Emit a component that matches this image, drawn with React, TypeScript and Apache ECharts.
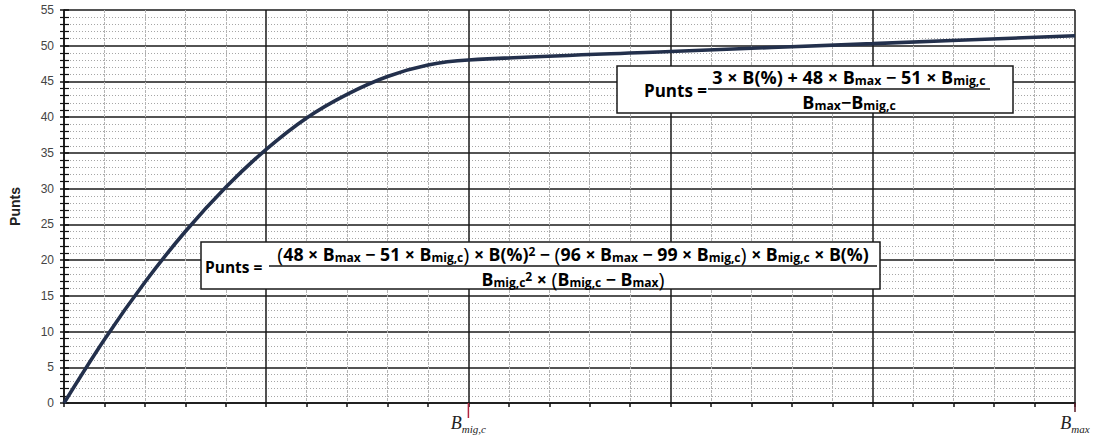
import React, { useEffect, useRef } from "react";
import * as echarts from "echarts";

// ---- data ----
const bValues = [0, 1, 2, 3, 4, 5, 6, 7, 8, 9, 10, 15, 20, 25];
const puntsValues = [0, 8.9, 16.9, 24.0, 30.2, 35.5, 39.9, 43.2, 45.7, 47.3, 48.0, 49.2, 50.3, 51.4];
const xLabelValues = [10, 25];
const xLabelSubs = ["mig,c", "max"];
const xMin = 0;
const xMax = 25;
const yMin = 0;
const yMax = 55;

const F = "'Open Sans', Lato, 'Liberation Sans', sans-serif";

const formulaRich = (size: number) => ({
  a: { fontSize: size, fontWeight: "bold", fontFamily: F, color: "#151515", lineHeight: 18 },
  s: { fontSize: size * 0.68, fontWeight: "bold", fontFamily: F, color: "#151515", lineHeight: 4, verticalAlign: "bottom" },
  sup: { fontSize: size * 0.68, fontWeight: "bold", fontFamily: F, color: "#151515", lineHeight: 8, verticalAlign: "top" },
  p: { fontSize: size * 1.15, fontFamily: F, color: "#151515", lineHeight: 18 },
});

const num1 = "{a|3 × B(%) + 48 × B}{s|max}{a| − 51 × B}{s|mig,c}";
const den1 = "{a|B}{s|max}{a|−B}{s|mig,c}";
const num2 =
  "{p|(}{a|48 × B}{s|max}{a| − 51 × B}{s|mig,c}{p|)}{a| × B(%)}{sup|2}{a| − }{p|(}{a|96 × B}{s|max}{a| − 99 × B}{s|mig,c}{p|)}{a| × B}{s|mig,c}{a| × B(%)}";
const den2 = "{a|B}{s|mig,c}{sup|2}{a| × }{p|(}{a|B}{s|mig,c}{a| − B}{s|max}{p|)}";

function txt(x: number, y: number, text: string, align: string, size: number) {
  return {
    type: "text",
    x,
    y,
    z: 20,
    style: {
      text,
      rich: formulaRich(size),
      align,
      textAlign: align,
      verticalAlign: "middle",
      textVerticalAlign: "middle",
    },
  };
}

function formulaBox(
  bx: number, by: number, bw: number, bh: number,
  puntsX: number, lineX1: number, lineX2: number, lineY: number,
  num: string, den: string, size: number, puntsSize: number
) {
  const cx = (lineX1 + lineX2) / 2;
  return [
    { type: "rect", z: 19, shape: { x: bx, y: by, width: bw, height: bh }, style: { fill: "#fff", stroke: "#1a1a1a", lineWidth: 1.5 } },
    txt(puntsX, lineY + 1, "{a|Punts =}", "left", puntsSize),
    txt(cx, lineY - 12, num, "center", size),
    { type: "line", z: 20, shape: { x1: lineX1, y1: lineY, x2: lineX2, y2: lineY }, style: { stroke: "#151515", lineWidth: 1.3 } },
    txt(cx, lineY + 13, den, "center", size),
  ];
}

export default function App() {
  const ref = useRef<HTMLDivElement>(null);
  useEffect(() => {
    if (!ref.current) return;
    const chart = echarts.init(ref.current, undefined, { renderer: "svg" });
    const option: any = {
      animation: false,
      backgroundColor: "#fff",
      grid: { left: 62, right: 22, top: 10, bottom: 36, containLabel: false },
      xAxis: [
        {
          type: "value",
          min: xMin,
          max: xMax,
          interval: 5,
          axisLine: { show: true, lineStyle: { color: "#111", width: 1.5 } },
          axisTick: { show: true, length: 4, lineStyle: { color: "#111", width: 1.5 } },
          minorTick: { show: true, splitNumber: 5, length: 4, lineStyle: { color: "#111", width: 1.5 } },
          splitLine: { show: true, lineStyle: { color: "#1a1a1a", width: 1.5 } },
          minorSplitLine: { show: true, lineStyle: { color: "#b4b4b4", width: 1, type: [3, 1] } },
          axisLabel: {
            margin: 9,
            formatter: (v: number) => {
              const i = xLabelValues.indexOf(v);
              return i >= 0 ? `{b|B}{s|${xLabelSubs[i]}}` : "";
            },
            rich: {
              b: { fontFamily: "'Liberation Serif', serif", fontStyle: "italic", fontSize: 18, color: "#222", lineHeight: 22 },
              s: { fontFamily: "'Liberation Serif', serif", fontStyle: "italic", fontSize: 11, color: "#222", lineHeight: 13, verticalAlign: "bottom" },
            },
          },
        },
      ],
      yAxis: [
        {
          type: "value",
          min: yMin,
          max: yMax,
          interval: 5,
          name: "Punts",
          nameLocation: "middle",
          nameGap: 42,
          nameTextStyle: { fontFamily: "'Liberation Sans', Arial, sans-serif", fontWeight: "bold", fontSize: 14, color: "#222" },
          axisLine: { show: true, lineStyle: { color: "#111", width: 1.5 } },
          axisTick: { show: true, length: 4, lineStyle: { color: "#111", width: 1.5 } },
          minorTick: { show: true, splitNumber: 5, length: 4, lineStyle: { color: "#111", width: 1.2 } },
          splitLine: { show: true, lineStyle: { color: "#1a1a1a", width: 1.5 } },
          minorSplitLine: { show: true, lineStyle: { color: "#a6a6a6", width: 1, type: [1, 2] } },
          axisLabel: { margin: 10, fontFamily: "'Liberation Sans', Arial, sans-serif", fontSize: 12, color: "#444" },
        },
        {
          type: "value",
          min: yMin,
          max: yMax,
          interval: 5,
          position: "left",
          axisLine: { show: false },
          axisLabel: { show: false },
          splitLine: { show: false },
          axisTick: { show: true, inside: true, length: 5, lineStyle: { color: "#111", width: 1.5 } },
          minorTick: { show: true, splitNumber: 5, length: 5, lineStyle: { color: "#111", width: 1.2 } },
        },
      ],
      series: [
        {
          type: "line",
          xAxisIndex: 0,
          yAxisIndex: 0,
          data: bValues.map((b, i) => [b, puntsValues[i]]),
          smooth: 0.35,
          showSymbol: false,
          z: 5,
          lineStyle: { color: "#23304c", width: 3.6 },
        },
      ],
    };
    chart.setOption(option);

    const redTicks: any[] = xLabelValues.map((v) => {
      const p = chart.convertToPixel({ xAxisIndex: 0, yAxisIndex: 0 }, [v, yMin]) as number[];
      return {
        type: "line",
        z: 30,
        shape: { x1: p[0], y1: p[1], x2: p[0], y2: p[1] + (v === xMax ? 9 : 15) },
        style: { stroke: v === xMax ? "#5a1a26" : "#b2243e", lineWidth: 1.5 },
      };
    });

    const graphics = [
      ...formulaBox(617, 66, 396, 47, 644, 708, 990, 89, num1, den1, 18, 17),
      ...formulaBox(201, 242, 679, 47, 205, 269, 877, 266, num2, den2, 17.7, 15.5),
      ...redTicks,
    ];
    chart.setOption({ graphic: graphics });

    return () => chart.dispose();
  }, []);
  return (
    <div
      ref={ref}
      style={{ position: "fixed", left: 0, top: 0, width: 1097, height: 439, background: "#fff" }}
    />
  );
}
